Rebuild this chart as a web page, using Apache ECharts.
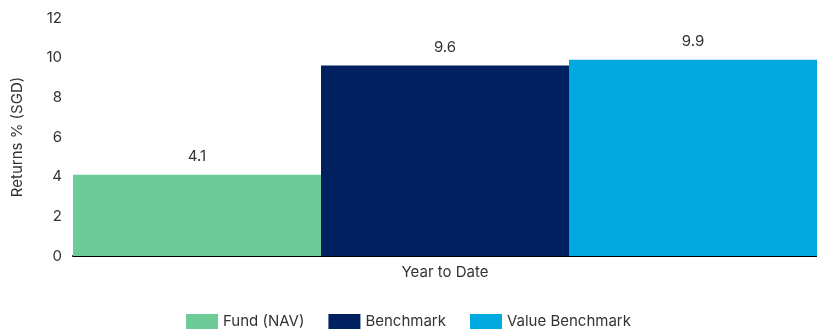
<!DOCTYPE html>
<html>
<head>
<meta charset="utf-8">
<script src="https://cdn.jsdelivr.net/npm/echarts@6/dist/echarts.min.js"></script>
<style>
  html, body { margin: 0; padding: 0; background: #ffffff; }
  #chart { width: 817px; height: 329px; }
</style>
</head>
<body>
<div id="chart"></div>
<script>
// Year-to-date returns, in percent (SGD)
const categories = ['Year to Date'];
const seriesNames = ['Fund (NAV)', 'Benchmark', 'Value Benchmark'];
const fundValues = [4.1];
const benchmarkValues = [9.6];
const valueBenchmarkValues = [9.9];
const yTicks = [0, 2, 4, 6, 8, 10, 12];

const colors = ['#6dcb98', '#002060', '#00a9e0'];
const seriesValues = [fundValues, benchmarkValues, valueBenchmarkValues];
const font = 'Inter, "Noto Sans", sans-serif';

const chart = echarts.init(document.getElementById('chart'), null, { renderer: 'canvas' });

chart.setOption({
  animation: false,
  textStyle: { fontFamily: font },
  grid: { left: 73, right: 0, top: 18, bottom: 73, containLabel: false },
  legend: {
    data: seriesNames,
    left: 'center',
    top: 314,
    padding: 0,
    itemWidth: 32,
    itemHeight: 15,
    itemGap: 24,
    icon: 'rect',
    textStyle: { fontSize: 15, color: '#333333', fontFamily: font }
  },
  xAxis: {
    type: 'category',
    data: categories,
    axisLine: { show: true, lineStyle: { color: '#000000', width: 2 } },
    axisTick: { show: false },
    axisLabel: { fontSize: 15, color: '#333333', margin: 9 }
  },
  yAxis: {
    type: 'value',
    min: yTicks[0],
    max: yTicks[yTicks.length - 1],
    interval: 2,
    name: 'Returns % (SGD)',
    nameLocation: 'middle',
    nameRotate: 90,
    nameGap: 48,
    nameTextStyle: { fontSize: 15, color: '#333333' },
    axisLine: { show: false },
    axisTick: { show: false },
    splitLine: { show: false },
    axisLabel: { fontSize: 15, color: '#333333', margin: 11 }
  },
  series: seriesNames.map((name, i) => ({
    name: name,
    type: 'bar',
    data: seriesValues[i],
    barGap: '0%',
    barCategoryGap: '0%',
    itemStyle: { color: colors[i] },
    label: {
      show: true,
      position: 'top',
      distance: 11,
      fontSize: 15,
      color: '#333333',
      formatter: p => p.value.toFixed(1)
    }
  }))
});
</script>
</body>
</html>
